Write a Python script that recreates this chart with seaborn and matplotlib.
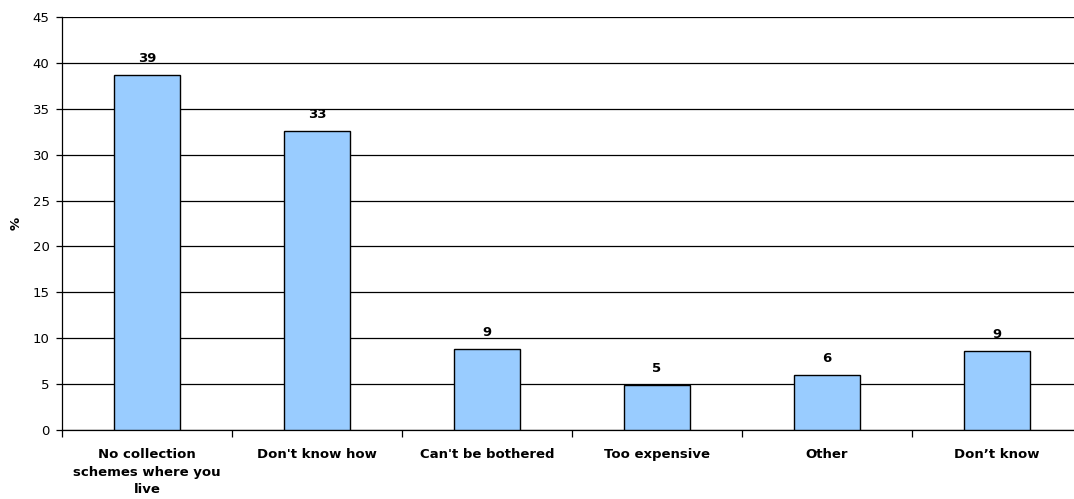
import matplotlib
matplotlib.use("Agg")
import matplotlib.pyplot as plt
import seaborn as sns
import numpy as np
import pandas as pd

categories = ["No collection\nschemes where you\nlive", "Don't know how", "Can't be bothered",
              "Too expensive", "Other", "Don\u2019t know"]
values = [38.7, 32.6, 8.8, 4.9, 6.0, 8.6]
labels = ["39", "33", "9", "5", "6", "9"]
yticks = list(range(0, 50, 5))

sns.set_style("white")
plt.rcParams['font.family'] = ['DejaVu Sans']
plt.rcParams['text.color'] = 'black'
plt.rcParams['xtick.color'] = 'black'
plt.rcParams['ytick.color'] = 'black'
plt.rcParams['axes.labelcolor'] = 'black'

df = pd.DataFrame({"cat": categories, "val": values})

fig = plt.figure(figsize=(10.74, 4.99), dpi=100)
ax = fig.add_axes([62/1074, 1-430/499, 1020/1074, 413/499])

sns.barplot(data=df, x="cat", y="val", color="#99CCFF", edgecolor="black",
            linewidth=1.0, width=0.39, saturation=1, ax=ax, zorder=3)

ax.set_ylim(0, 45)
ax.set_xlim(-0.5, len(categories) - 0.5)
ax.set_yticks(yticks)
ax.set_yticklabels([str(t) for t in yticks], fontsize=9.5)
ax.yaxis.grid(True, color="black", linewidth=0.9)
ax.set_axisbelow(True)
for s in ["top", "right"]:
    ax.spines[s].set_visible(False)
ax.spines["left"].set_color("black")
ax.spines["bottom"].set_color("black")
ax.spines["left"].set_linewidth(0.9)
ax.spines["bottom"].set_linewidth(0.9)

ax.tick_params(axis="y", which="major", left=True, direction="out", length=4,
               width=0.9, color="black", pad=5)
ax.set_xticks(range(len(categories)))
ax.set_xticklabels(categories, fontsize=9.5, fontweight="bold", linespacing=1.45)
ax.set_xticks(np.arange(-0.5, len(categories), 1.0), minor=True)
ax.tick_params(axis="x", which="major", bottom=False, length=0, pad=13)
ax.tick_params(axis="x", which="minor", bottom=True, direction="out", length=5,
               width=0.9, color="black")

ax.set_xlabel("")
ax.set_ylabel("")
fig.text(16/1074, 1-223/499, "%", rotation=90, ha="center", va="center",
         fontsize=9.5, fontweight="bold", color="black")

for i, (v, l) in enumerate(zip(values, labels)):
    ax.text(i, v + 1.1, l, ha="center", va="bottom", fontsize=9.5, fontweight="bold",
            color="black")

fig.savefig("out.png", dpi=100)
